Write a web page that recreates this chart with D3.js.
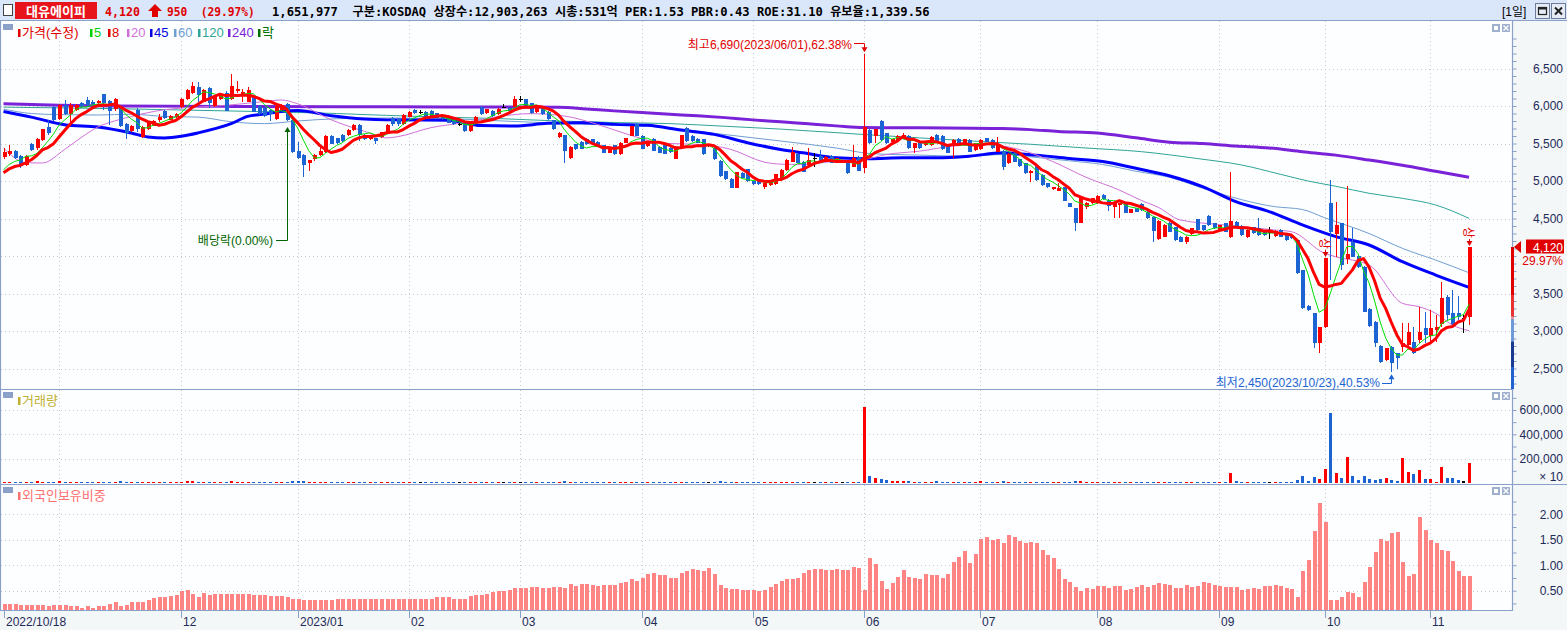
<!DOCTYPE html>
<html>
<head>
<meta charset="utf-8">
<script src="https://cdn.jsdelivr.net/npm/d3@7"></script>
<style>
body { margin: 0; background: #fff; overflow: hidden; }
svg { display: block; }
text { font-family: "Liberation Sans", "Noto Sans CJK KR", sans-serif; }
</style>
</head>
<body>
<div id="chart"></div>
<script>
// 일봉 데이터 (2022/10/18 ~ 2023/11/10), 그림에서 읽은 값
var opens = [
5320,5355,5400,5330,5220,5490,5440,5545,5720,5985,
5825,6015,5895,5950,6040,6080,6060,6035,6160,6065,
5955,5985,5765,5670,5950,5590,5690,5740,5820,5930,
5820,5850,5985,6090,6170,6250,6060,6235,5995,6090,
6180,6090,6200,6160,6060,6125,6000,5975,5950,5825,
5950,6030,5820,5400,5350,5240,5290,5345,5385,5605,
5570,5620,5610,5675,5750,5620,5555,5570,5590,5660,
5844,5822,5755,5858,5946,5920,5920,5933,5902,5858,
5866,5822,5755,5800,5667,5778,5991,5902,5933,5889,
5991,5977,5991,6089,6089,6035,5920,5986,5920,5813,
5591,5609,5311,5489,5520,5555,5555,5520,5475,5378,
5475,5356,5511,5600,5764,5600,5467,5564,5458,5475,
5444,5298,5444,5711,5600,5564,5555,5475,5444,5267,
5133,5031,4911,5111,5155,5000,5000,4925,4942,4960,
5035,5147,5258,5360,5258,5213,5302,5333,5271,5333,
5244,5258,5258,5191,5324,5169,5680,5600,5804,5635,
5524,5546,5569,5600,5435,5524,5480,5480,5613,5600,
5480,5480,5555,5480,5546,5413,5422,5569,5546,5391,
5404,5235,5378,5289,5235,5111,5200,5080,4969,4889,
4871,4915,4702,4635,4444,4658,4702,4702,4813,4747,
4649,4680,4702,4578,4635,4693,4591,4524,4222,4258,
4445,4383,4258,4192,4294,4489,4414,4534,4436,4347,
4436,4249,4458,4400,4249,4383,4370,4338,4325,4267,
4347,4294,4267,4214,3814,3330,3236,2836,3050,4702,
4300,4435,3960,4191,4000,3858,3300,3124,2800,2613,
2791,2702,2791,2813,2849,2880,3036,2933,3013,3093,
3449,3235,3235,3170,3190];
var highs = [
5440,5485,5420,5345,5350,5510,5580,5700,5820,6000,
6030,6080,6040,6030,6060,6125,6075,6080,6165,6080,
6110,6000,5780,5750,5980,5730,5790,5820,5900,5945,
5880,5910,6105,6230,6325,6325,6230,6250,6135,6165,
6195,6425,6340,6225,6260,6140,6010,5990,5960,6010,
6030,6040,5830,5520,5360,5285,5360,5470,5610,5615,
5580,5630,5690,5760,5760,5630,5610,5580,5660,5760,
5860,5840,5890,5935,5960,5945,5930,5945,5910,5870,
5875,5830,5770,5810,5790,5870,6000,5965,5945,5975,
6030,5990,6130,6135,6100,6045,5985,5995,5930,5820,
5655,5620,5465,5500,5530,5570,5565,5530,5485,5450,
5485,5515,5575,5740,5775,5610,5525,5570,5465,5480,
5450,5465,5615,5720,5610,5575,5565,5490,5450,5275,
5140,5040,5125,5120,5165,5010,5010,4975,4990,5100,
5155,5290,5449,5372,5268,5435,5378,5413,5335,5343,
5310,5270,5268,5480,5333,6690,5690,5698,5815,5645,
5565,5610,5635,5608,5510,5532,5520,5600,5622,5608,
5488,5555,5568,5563,5555,5510,5555,5580,5554,5582,
5412,5368,5386,5297,5243,5146,5208,5088,4977,4923,
4980,4923,4710,4643,4800,4720,4777,4808,4821,4755,
4710,4710,4710,4630,4643,4701,4599,4532,4479,4421,
4455,4390,4265,4265,4375,4500,4420,4545,4445,4420,
4445,5125,4465,4410,4355,4390,4505,4345,4385,4345,
4355,4300,4275,4220,3820,3345,3245,3058,3975,5013,
4724,4445,4930,4369,4010,3870,3310,3130,2810,2780,
2800,2710,3110,3102,3058,3324,3258,3280,3213,3658,
3480,3546,3467,3213,4120];
var lows = [
5300,5330,5290,5180,5200,5400,5420,5530,5620,5800,
5810,5880,5790,5930,5980,5990,6015,6020,5950,5750,
5940,5720,5560,5650,5650,5580,5680,5730,5790,5830,
5810,5840,5970,6080,6160,6050,6050,5970,5985,6080,
5930,6080,6180,6060,6050,5915,5880,5860,5795,5815,
5940,5800,5380,5290,5060,5130,5270,5330,5380,5490,
5500,5520,5600,5665,5530,5550,5545,5500,5580,5650,
5740,5740,5745,5850,5895,5900,5850,5835,5835,5810,
5770,5745,5730,5650,5655,5770,5875,5895,5855,5880,
5975,5925,5985,6060,5990,5900,5910,5880,5810,5680,
5580,5244,5300,5415,5425,5480,5480,5460,5370,5370,
5350,5350,5505,5595,5595,5425,5460,5395,5370,5355,
5380,5290,5440,5525,5525,5505,5350,5460,5280,5060,
5015,4905,4905,5035,4990,4945,4945,4900,4935,4950,
5025,5135,5250,5235,5115,5191,5191,5262,5262,5235,
5235,5248,5100,5182,5130,5102,5495,5502,5538,5495,
5515,5538,5560,5428,5375,5428,5472,5472,5503,5415,
5370,5302,5495,5472,5384,5405,5414,5517,5428,5383,
5147,5227,5250,5192,5094,4991,5005,4939,4908,4882,
4863,4730,4650,4338,4436,4630,4694,4694,4747,4600,
4502,4502,4570,4570,4583,4605,4494,4191,4214,4250,
4320,4205,4185,4160,4285,4340,4340,4405,4360,4340,
4315,4240,4385,4270,4240,4295,4270,4270,4225,4260,
4250,4205,4230,3760,3290,3270,2770,2711,3040,3680,
3991,3814,3900,3985,3840,3250,3060,2790,2580,2600,
2450,2500,2724,2769,2690,2835,2835,2826,2858,3058,
3147,3058,3147,2970,3080];
var closes = [
5385,5405,5310,5200,5340,5420,5560,5695,5640,5815,
6015,5895,6015,6015,5995,6015,6030,6065,6045,5935,
6100,5730,5640,5735,5690,5720,5775,5805,5850,5840,
5870,5900,6095,6215,6270,6150,6215,6045,6125,6150,
5940,6265,6225,6190,6215,5925,5900,5870,5900,6000,
6015,5820,5385,5310,5220,5275,5350,5400,5605,5500,
5510,5530,5685,5750,5620,5560,5600,5540,5650,5750,
5755,5755,5875,5920,5902,5920,5858,5844,5844,5822,
5778,5755,5755,5667,5778,5858,5889,5955,5866,5964,
5991,5933,6098,6089,6000,5911,5977,5889,5822,5689,
5644,5400,5458,5422,5431,5489,5489,5467,5378,5444,
5356,5511,5569,5733,5600,5431,5520,5400,5378,5364,
5386,5458,5609,5533,5533,5511,5356,5475,5289,5067,
5022,4911,5120,5044,5000,4955,4955,4969,4986,5093,
5147,5280,5391,5244,5124,5280,5302,5271,5324,5244,
5302,5258,5111,5302,5138,5724,5502,5689,5546,5502,
5555,5600,5613,5435,5502,5435,5511,5591,5511,5422,
5378,5546,5502,5555,5391,5502,5546,5524,5435,5480,
5182,5360,5258,5200,5102,5138,5013,4947,4915,4915,
4902,4738,4658,4444,4791,4711,4769,4800,4755,4667,
4702,4702,4578,4622,4591,4613,4502,4338,4471,4413,
4325,4214,4192,4258,4370,4347,4347,4414,4370,4414,
4325,4467,4392,4280,4347,4303,4280,4280,4325,4338,
4258,4214,4236,3769,3303,3280,2845,3058,3975,4325,
4415,3880,4030,3991,3850,3258,3070,2835,2590,2769,
2569,2635,2835,2991,2702,2991,2947,3036,3058,3435,
3213,3093,3182,3170,4120];
// 차트 시작 전 종가 (단기 이동평균 계산용, 선의 시작 위치에서 추정)
var priorCloses = [5000,5050,5080,5060,5100,5110,5095];

// 거래량 (x10 주)
var volumes = [
12000,9000,11000,10000,9000,8000,13000,12000,10000,11000,
14000,10000,9000,8000,9000,10000,7000,8000,11000,12000,
9000,13000,11000,8000,10000,9000,8000,7000,8000,7000,
7000,8000,12000,14000,13000,11000,10000,12000,9000,8000,
11000,15000,10000,9000,9000,10000,8000,7000,8000,9000,
8000,12000,16000,14000,13000,9000,8000,8000,11000,9000,
8000,7000,8000,9000,10000,8000,7000,7000,8000,9000,
9000,8000,9000,8000,7000,6000,7000,8000,7000,6000,
7000,8000,6000,9000,8000,8000,11000,8000,7000,8000,
7000,7000,12000,10000,9000,9000,7000,8000,8000,10000,
9000,14000,11000,8000,7000,7000,6000,7000,8000,7000,
8000,9000,8000,11000,10000,9000,7000,8000,7000,7000,
6000,9000,10000,9000,7000,7000,9000,6000,9000,20000,
12000,11000,12000,8000,9000,7000,7000,6000,6000,9000,
8000,10000,11000,9000,8000,9000,7000,8000,6000,7000,
6000,5000,8000,10000,9000,625000,57000,41000,33000,25000,
15000,15000,15000,15000,11000,9000,8000,9000,15000,10000,
9000,11000,8000,9000,10000,9000,15000,8000,8000,9000,
15000,9000,8000,8000,10000,8000,10000,9000,7000,6000,
7000,10000,8000,14000,13000,9000,8000,9000,7000,8000,
8000,7000,8000,6000,6000,7000,8000,12000,11000,9000,
8000,9000,7000,7000,8000,9000,7000,8000,6000,7000,
8000,82000,14000,10000,9000,8000,10000,7000,6000,7000,
8000,9000,10000,25000,55000,19000,47000,33000,115000,575000,
82000,41000,216000,57000,25000,57000,33000,25000,33000,41000,
25000,16000,205000,90000,74000,107000,33000,33000,8000,131000,
41000,41000,25000,16000,165198];

// 외국인보유비중 (%)
var foreign = [
0.24,0.24,0.24,0.22,0.22,0.22,0.22,0.22,0.20,0.22,
0.22,0.22,0.20,0.19,0.17,0.19,0.17,0.19,0.19,0.24,
0.27,0.20,0.22,0.27,0.27,0.27,0.32,0.35,0.37,0.37,
0.39,0.42,0.49,0.51,0.44,0.37,0.45,0.42,0.44,0.44,
0.44,0.44,0.44,0.44,0.44,0.42,0.42,0.42,0.40,0.40,
0.40,0.37,0.34,0.34,0.32,0.32,0.32,0.32,0.32,0.32,
0.34,0.34,0.34,0.34,0.34,0.34,0.34,0.34,0.34,0.34,
0.34,0.34,0.34,0.34,0.34,0.34,0.34,0.34,0.37,0.37,
0.37,0.34,0.34,0.34,0.39,0.41,0.42,0.44,0.47,0.50,
0.50,0.52,0.55,0.55,0.55,0.57,0.57,0.55,0.55,0.57,
0.57,0.55,0.63,0.60,0.63,0.63,0.62,0.60,0.61,0.61,
0.61,0.66,0.68,0.72,0.70,0.74,0.82,0.85,0.80,0.80,
0.74,0.74,0.85,0.88,0.92,0.90,0.88,0.95,0.82,0.62,
0.55,0.54,0.54,0.51,0.51,0.51,0.50,0.52,0.57,0.64,
0.70,0.72,0.72,0.74,0.85,0.90,0.92,0.92,0.90,0.90,
0.92,0.90,0.90,0.97,0.95,0.52,1.15,1.03,0.70,0.54,
0.65,0.77,0.90,0.77,0.75,0.73,0.83,0.80,0.81,0.75,
0.83,1.07,1.17,1.27,1.05,1.23,1.51,1.56,1.49,1.51,
1.43,1.59,1.55,1.47,1.44,1.45,1.43,1.29,1.20,1.15,
0.92,0.72,0.68,0.58,0.50,0.56,0.54,0.60,0.60,0.56,
0.60,0.60,0.52,0.54,0.58,0.62,0.58,0.62,0.66,0.64,
0.62,0.56,0.56,0.62,0.58,0.60,0.68,0.66,0.62,0.60,
0.58,0.58,0.58,0.52,0.54,0.56,0.54,0.60,0.60,0.62,
0.60,0.56,0.54,0.38,0.89,1.11,1.68,2.23,1.84,0.32,
0.32,0.38,0.47,0.46,0.38,0.67,0.97,1.26,1.52,1.48,
1.64,1.66,1.06,0.79,0.83,1.95,1.69,1.50,1.44,1.30,
1.28,1.08,0.89,0.79,0.79];

// 장기 이동평균선: 그림에서 읽은 [봉 번호, 가격]
var ma20 = [[0,5440],[4,5245],[7,5240],[11,5420],[14,5580],[17,5720],[20,5800],[23,5860],[29,5950],[35,5985],[41,6015],[47,6060],[50,6080],[53,6030],[59,5817],[65,5663],[69,5575],[71,5591],[77,5711],[83,5778],[89,5858],[95,5898],[101,5867],[107,5755],[113,5609],[119,5502],[125,5489],[131,5422],[137,5253],[140,5225],[144,5220],[150,5265],[155,5287],[159,5353],[165,5398],[171,5465],[177,5487],[183,5420],[189,5260],[195,5050],[201,4880],[205,4740],[208,4650],[212,4480],[220,4414],[229,4347],[232,4325],[238,4036],[240,3990],[246,3880],[252,3369],[255,3324],[258,3235],[261,3080],[264,3004]];
var ma45 = [[0,5927],[5,5852],[11,5751],[17,5720],[23,5641],[26,5588],[29,5575],[32,5597],[35,5641],[41,5764],[44,5861],[47,5892],[50,5927],[53,5940],[59,5870],[65,5826],[69,5815],[80,5809],[86,5740],[92,5733],[98,5769],[104,5778],[110,5755],[116,5742],[122,5680],[128,5622],[134,5511],[140,5420],[144,5376],[150,5309],[156,5296],[162,5309],[168,5309],[174,5331],[180,5376],[186,5345],[192,5300],[198,5260],[204,5170],[210,5070],[216,4925],[222,4725],[228,4592],[234,4414],[240,4258],[246,4147],[252,3924],[258,3746],[264,3582]];
var ma60 = [[0,5958],[5,5900],[10,5885],[17,5880],[23,5890],[29,5861],[35,5852],[41,5790],[47,5765],[53,5800],[60,5830],[69,5840],[80,5831],[90,5800],[100,5770],[110,5745],[116,5733],[128,5636],[140,5533],[150,5440],[156,5367],[165,5345],[174,5331],[180,5353],[186,5315],[192,5270],[198,5220],[204,5130],[210,5050],[217,4880],[229,4658],[234,4620],[238,4510],[246,4300],[252,4102],[258,3946],[264,3777]];
var ma120 = [[0,5985],[10,5975],[20,5965],[30,5950],[40,5935],[50,5920],[60,5900],[69,5875],[80,5850],[90,5830],[100,5800],[110,5780],[120,5765],[130,5730],[140,5692],[155,5620],[165,5575],[175,5531],[185,5490],[195,5440],[205,5391],[215,5300],[223,5214],[230,5090],[235,5000],[240,4930],[246,4836],[252,4769],[258,4680],[264,4502]];
var ma240 = [[0,6030],[10,6010],[20,6000],[40,5995],[60,5990],[80,5987],[100,5984],[105,5960],[110,5935],[115,5912],[120,5890],[125,5870],[130,5845],[135,5815],[140,5790],[145,5762],[150,5735],[155,5712],[160,5710],[170,5708],[180,5700],[185,5685],[190,5660],[197,5640],[204,5576],[210,5518],[216,5500],[222,5467],[228,5440],[234,5391],[240,5345],[246,5280],[252,5210],[258,5130],[264,5050]];

// 날짜축: 각 월 첫 거래일의 봉 번호와 라벨
var monthStarts = [10, 32, 53, 73, 93, 115, 135, 155, 176, 197, 219, 238, 257];
var monthLabels = ["", "12", "2023/01", "02", "03", "04", "05", "06", "07", "08", "09", "10", "11"];
var firstDate = "2022/10/18";

var priceTicks = [2500, 3000, 3500, 4000, 4500, 5000, 5500, 6000, 6500];
var priceLabels = [2500, 3000, 3500, 4500, 5000, 5500, 6000, 6500];
var volTicks = [200000, 400000, 600000];
var forTicks = [0.5, 1.0, 1.5, 2.0];

var UP = "#ff0000", DOWN = "#1c64d4", FLAT = "#000000";
var AXIS = "#8aa0c8", LABEL = "#1e2a5a";

var svg = d3.select("#chart").append("svg")
    .attr("width", 1567)
    .attr("height", 630);

var x = d3.scaleLinear().domain([0, 264]).range([3.5, 1469]);
var yP = d3.scaleLinear().domain([3000, 6500]).range([331, 68.5]);
var yV = d3.scaleLinear().domain([0, 600000]).range([483, 410]);
var yF = d3.scaleLinear().domain([0.5, 2.0]).range([590.7, 514.3]);

// 배경
svg.append("rect").attr("width", 1567).attr("height", 630).attr("fill", "#fdfeff");
svg.append("rect").attr("x", 1513).attr("y", 21).attr("width", 54).attr("height", 609).attr("fill", "#f3f7f7");
svg.append("rect").attr("x", 0).attr("y", 611).attr("width", 1567).attr("height", 19).attr("fill", "#f3f7f7");

var defs = svg.append("defs");
function clip(id, y0, y1) {
    defs.append("clipPath").attr("id", id).append("rect")
        .attr("x", 1).attr("y", y0).attr("width", 1511).attr("height", y1 - y0);
}
clip("cp", 21, 389);
clip("cv", 390, 484);
clip("cf", 485, 610);

// 그리드
function hgrid(vals, scale) {
    svg.append("g").selectAll("line").data(vals).join("line")
        .attr("x1", 1).attr("x2", 1512)
        .attr("y1", function(d){ return Math.round(scale(d)) + 0.5; })
        .attr("y2", function(d){ return Math.round(scale(d)) + 0.5; })
        .attr("stroke", "#c8c8c8").attr("stroke-dasharray", "1,3");
}
function vgrid(y0, y1) {
    svg.append("g").selectAll("line").data(monthStarts).join("line")
        .attr("x1", function(d){ return Math.round(x(d)) + 0.5; })
        .attr("x2", function(d){ return Math.round(x(d)) + 0.5; })
        .attr("y1", y0).attr("y2", y1)
        .attr("stroke", "#c8c8c8").attr("stroke-dasharray", "1,3");
}
hgrid(priceTicks, yP); vgrid(21, 389);
hgrid(volTicks, yV); vgrid(390, 484);
hgrid(forTicks, yF); vgrid(485, 610);

// 이동평균
var allCloses = priorCloses.concat(closes);
function sma(n) {
    return closes.map(function(c, i) {
        var j = i + priorCloses.length;
        if (j + 1 < n) return null;
        return d3.mean(allCloses.slice(j - n + 1, j + 1));
    });
}
var ma5 = sma(5), ma8 = sma(8);

var pricePanel = svg.append("g").attr("clip-path", "url(#cp)");

var sampleLine = d3.line()
    .x(function(d){ return x(d[0]); })
    .y(function(d){ return yP(d[1]); })
    .curve(d3.curveMonotoneX);
var seriesLine = d3.line()
    .defined(function(d){ return d != null; })
    .x(function(d, i){ return x(i); })
    .y(function(d){ return yP(d); });

function drawPath(g, data, gen, color, w) {
    g.append("path").datum(data).attr("d", gen)
        .attr("fill", "none").attr("stroke", color).attr("stroke-width", w)
        .attr("stroke-linejoin", "round");
}
drawPath(pricePanel, ma240, sampleLine, "#7a22d8", 3);
drawPath(pricePanel, ma120, sampleLine, "#2fa597", 1);
drawPath(pricePanel, ma60, sampleLine, "#6f9fd2", 1);
drawPath(pricePanel, ma45, sampleLine, "#0000ff", 3);
drawPath(pricePanel, ma20, sampleLine, "#d070d8", 1);

// 캔들
function candleColor(i) {
    return closes[i] > opens[i] ? UP : (closes[i] < opens[i] ? DOWN : FLAT);
}
var idx = d3.range(closes.length);
var candles = pricePanel.append("g").selectAll("g").data(idx).join("g")
    .attr("shape-rendering", "crispEdges");
candles.append("line")
    .attr("x1", function(i){ return Math.round(x(i)) + 0.5; })
    .attr("x2", function(i){ return Math.round(x(i)) + 0.5; })
    .attr("y1", function(i){ return yP(highs[i]); })
    .attr("y2", function(i){ return yP(lows[i]); })
    .attr("stroke", candleColor);
candles.append("rect")
    .attr("x", function(i){ return Math.round(x(i)) - 1; })
    .attr("width", 4)
    .attr("y", function(i){ return yP(Math.max(opens[i], closes[i])); })
    .attr("height", function(i){ return Math.max(1, Math.abs(yP(opens[i]) - yP(closes[i]))); })
    .attr("fill", candleColor);

drawPath(pricePanel, ma5, seriesLine, "#00e000", 1);
drawPath(pricePanel, ma8, seriesLine, "#ff0000", 3);

// 거래량
svg.append("g").attr("clip-path", "url(#cv)").attr("shape-rendering", "crispEdges")
    .selectAll("rect").data(idx).join("rect")
    .attr("x", function(i){ return Math.round(x(i)) - 1; })
    .attr("width", 3)
    .attr("y", function(i){ return Math.min(yV(volumes[i]), 482); })
    .attr("height", function(i){ return Math.max(1, 483 - yV(volumes[i])); })
    .attr("fill", candleColor);

// 외국인보유비중
svg.append("g").attr("clip-path", "url(#cf)").attr("shape-rendering", "crispEdges")
    .selectAll("rect").data(idx).join("rect")
    .attr("x", function(i){ return Math.round(x(i)) - 1; })
    .attr("width", 3.5)
    .attr("y", function(i){ return yF(foreign[i]); })
    .attr("height", function(i){ return 610 - yF(foreign[i]); })
    .attr("fill", "#ff8585");

// 테두리
function hline(y, x1, x2) {
    svg.append("line").attr("x1", x1).attr("x2", x2).attr("y1", y).attr("y2", y)
        .attr("stroke", AXIS).attr("stroke-width", 1.2);
}
hline(389.5, 0, 1512);
hline(484.5, 0, 1567);
hline(610.5, 0, 1512);
svg.append("line").attr("x1", 1512.5).attr("x2", 1512.5).attr("y1", 20).attr("y2", 611)
    .attr("stroke", AXIS).attr("stroke-width", 1.2);
svg.append("line").attr("x1", 0.5).attr("x2", 0.5).attr("y1", 20).attr("y2", 611)
    .attr("stroke", AXIS).attr("stroke-width", 1.2);

// 오른쪽 축
function rightAxis(scale, minor, labels, fmt) {
    var g = svg.append("g").attr("transform", "translate(1512.5,0)")
        .call(d3.axisRight(scale).tickValues(minor).tickSize(4)
            .tickFormat(function(d){ return labels.indexOf(d) >= 0 ? fmt(d) : ""; }));
    g.select(".domain").remove();
    g.selectAll(".tick line").attr("stroke", AXIS);
    g.selectAll(".tick text").attr("x", 50.5).attr("text-anchor", "end")
        .attr("fill", LABEL).style("font-size", "12px")
        .style("font-family", "'Liberation Sans', sans-serif");
    return g;
}
rightAxis(yP, d3.range(2300, 6901, 100), priceLabels, d3.format(","));
rightAxis(yV, [100000, 200000, 300000, 400000, 500000, 600000, 700000], volTicks, d3.format(","));
rightAxis(yF, [0.25, 0.5, 0.75, 1.0, 1.25, 1.5, 1.75, 2.0, 2.25], forTicks, d3.format(".2f"));
svg.append("text").attr("x", 1563).attr("y", 481).attr("text-anchor", "end")
    .attr("fill", LABEL).style("font-size", "12px").text("× 10");

// 날짜축
var xa = svg.append("g");
var tickIdx = [0].concat(monthStarts.slice(1));
var tickLab = [firstDate].concat(monthLabels.slice(1));
xa.selectAll("line").data(tickIdx).join("line")
    .attr("x1", function(d){ return Math.round(x(d)) + 0.5; })
    .attr("x2", function(d){ return Math.round(x(d)) + 0.5; })
    .attr("y1", 611).attr("y2", 618).attr("stroke", AXIS);
xa.selectAll("text").data(tickIdx).join("text")
    .attr("x", function(d){ return Math.round(x(d)) + 2; })
    .attr("y", 626).attr("fill", LABEL).style("font-size", "12px")
    .text(function(d, k){ return tickLab[k]; });

// 현재가 표시
var last = closes.length - 1;
var yl = yP(closes[last]);
var sideBar = [[4120, 3480, "#e00000"], [3480, 3190, "#e83232"], [3190, 3160, "#f09090"],
               [3160, 2860, "#6f9ad8"], [2860, 2520, "#1a3c90"], [2520, 2210, "#1f62d0"]];
svg.append("g").selectAll("rect").data(sideBar).join("rect")
    .attr("x", 1511).attr("width", 3)
    .attr("y", function(d){ return yP(d[0]); })
    .attr("height", function(d){ return Math.min(389, yP(d[1])) - yP(d[0]); })
    .attr("fill", function(d){ return d[2]; });
svg.append("path").attr("d", "M1514," + yl + "L1521," + (yl - 6) + "L1521," + (yl + 6) + "Z").attr("fill", "#e00000");
svg.append("rect").attr("x", 1526).attr("y", yl - 7.5).attr("width", 38).attr("height", 14).attr("fill", "#e00000");
svg.append("text").attr("x", 1563).attr("y", yl + 4.5).attr("text-anchor", "end")
    .attr("fill", "#fff").style("font-size", "12px").text(d3.format(",")(closes[last]));
svg.append("text").attr("x", 1563).attr("y", yl + 18).attr("text-anchor", "end")
    .attr("fill", "#e00000").style("font-size", "12px").text("29.97%");

// 주석
function arrowHead(px, py, dir, color) {
    var d = dir === "down"
        ? "M" + (px - 3) + "," + (py - 5) + "L" + (px + 3) + "," + (py - 5) + "L" + px + "," + py + "Z"
        : "M" + (px - 3) + "," + (py + 5) + "L" + (px + 3) + "," + (py + 5) + "L" + px + "," + py + "Z";
    svg.append("path").attr("d", d).attr("fill", color);
}
var iHi = 155, iLo = 250, iDiv = 51;
var hx = Math.round(x(iHi)) + 0.5;
svg.append("text").attr("x", 852).attr("y", 49).attr("text-anchor", "end")
    .attr("fill", "#e00000").style("font-size", "12px")
    .text("최고" + d3.format(",")(highs[iHi]) + "(2023/06/01),62.38%");
svg.append("path").attr("d", "M854,43.5H" + hx + "V" + (yP(highs[iHi]) - 3))
    .attr("fill", "none").attr("stroke", "#e00000");
arrowHead(hx, yP(highs[iHi]) - 2, "down", "#e00000");

var lx = Math.round(x(iLo)) + 0.5;
svg.append("text").attr("x", 1380).attr("y", 387).attr("text-anchor", "end")
    .attr("fill", DOWN).style("font-size", "12px")
    .text("최저" + d3.format(",")(lows[iLo]) + "(2023/10/23),40.53%");
svg.append("path").attr("d", "M1382,383.5H" + lx + "V" + (yP(lows[iLo]) + 3))
    .attr("fill", "none").attr("stroke", DOWN);
arrowHead(lx, yP(lows[iLo]) + 2, "up", DOWN);

var dx = Math.round(x(iDiv)) + 0.5;
svg.append("text").attr("x", 273).attr("y", 245).attr("text-anchor", "end")
    .attr("fill", "#006400").style("font-size", "12px").text("배당락(0.00%)");
svg.append("path").attr("d", "M276,240.5H" + dx + "V" + (yP(lows[iDiv]) + 7))
    .attr("fill", "none").attr("stroke", "#006400");
arrowHead(dx, yP(lows[iDiv]) + 6, "up", "#006400");

// 상한가 표시
[238, 264].forEach(function(i) {
    var cx = Math.round(x(i)) + 0.5, top = yP(highs[i]);
    svg.append("text").attr("transform", "translate(" + (cx - 5.5) + "," + (top - 20) + ") rotate(90)")
        .attr("fill", "#e00000").style("font-size", "12px").text("상");
    svg.append("line").attr("x1", cx).attr("x2", cx).attr("y1", top - 8).attr("y2", top - 2)
        .attr("stroke", "#e00000");
    arrowHead(cx, top - 1, "down", "#e00000");
});

// 범례
function legend(items, y) {
    items.forEach(function(it) {
        svg.append("rect").attr("x", it[0]).attr("y", y - 8).attr("width", 2.5).attr("height", 8).attr("fill", it[2]);
        svg.append("text").attr("x", it[0] + 4).attr("y", y).attr("fill", it[2])
            .style("font-size", "13px").text(it[1]);
    });
}
legend([[18, "가격(수정)", "#e00000"], [90, "5", "#00d000"], [108, "8", "#e00000"],
        [127, "20", "#d070d8"], [150, "45", "#0000e0"], [174, "60", "#6f9fd2"],
        [198, "120", "#2fa597"], [228, "240", "#7a22d8"], [258, "락", "#007000"]], 37);
legend([[18, "거래량", "#c0b030"]], 405);
legend([[18, "외국인보유비중", "#ff7070"]], 500);

// 패널 아이콘
[23, 391, 486].forEach(function(y) {
    svg.append("rect").attr("x", 3).attr("y", y + 1).attr("width", 10).attr("height", 6).attr("fill", AXIS);
    svg.append("rect").attr("x", 1492).attr("y", y + 1).attr("width", 8).attr("height", 8).attr("fill", "#9fb0cc");
    svg.append("rect").attr("x", 1494).attr("y", y + 3).attr("width", 4).attr("height", 4).attr("fill", "#fff");
    svg.append("rect").attr("x", 1502).attr("y", y + 1).attr("width", 8).attr("height", 8).attr("fill", "#9fb0cc");
    svg.append("path").attr("d", "M1503.5," + (y + 2.5) + "l5,5m0,-5l-5,5").attr("stroke", "#fff").attr("stroke-width", 1.3);
});

// 제목줄
svg.append("rect").attr("width", 1567).attr("height", 20).attr("fill", "#dae6fa");
svg.append("line").attr("x1", 0).attr("x2", 1567).attr("y1", 20.5).attr("y2", 20.5).attr("stroke", AXIS);
svg.append("rect").attr("x", 3.5).attr("y", 4.5).attr("width", 9).attr("height", 11)
    .attr("fill", "#fff").attr("stroke", "#444");
svg.append("rect").attr("x", 15).attr("y", 2).attr("width", 82).attr("height", 17).attr("fill", "#e8141c");
svg.append("text").attr("x", 56).attr("y", 15.5).attr("text-anchor", "middle")
    .attr("fill", "#fff").style("font-size", "13px").style("font-weight", "bold").text("대유에이피");
svg.append("path").attr("d", "M155,4L162,11H158V17H152V11H148Z").attr("fill", "#e00000");

// [텍스트, 시작 x, 폭, 색]
var header = [
    ["4,120", 105, 35, "#e00000"],
    ["950  (29.97%)", 167, 88, "#e00000"],
    ["1,651,977  구분:KOSDAQ 상장수:12,903,263 시총:531억 PER:1.53 PBR:0.43 ROE:31.10 유보율:1,339.56", 272, 658, "#000"]
];
header.forEach(function(h) {
    var t = svg.append("text").attr("fill", h[3])
        .style("font-size", "12px").style("font-weight", "bold").style("white-space", "pre")
        .style("font-family", "'DejaVu Sans Mono', 'Noto Sans CJK KR', monospace")
        .text(h[0]);
    var w = t.node().getComputedTextLength();
    t.attr("transform", "translate(" + h[1] + ",15.5) scale(" + (h[2] / w) + ",1)");
});

svg.append("text").attr("x", 1502).attr("y", 16).attr("fill", "#000")
    .style("font-size", "12px").text("[1일]");
svg.append("rect").attr("x", 1535.5).attr("y", 3.5).attr("width", 14).attr("height", 15)
    .attr("fill", "#e6ecf6").attr("stroke", "#6d7d99");
svg.append("rect").attr("x", 1538.5).attr("y", 7.5).attr("width", 8).attr("height", 7)
    .attr("fill", "none").attr("stroke", "#222").attr("stroke-width", 1.2);
svg.append("rect").attr("x", 1538.5).attr("y", 7.5).attr("width", 8).attr("height", 2).attr("fill", "#222");
svg.append("rect").attr("x", 1551.5).attr("y", 3.5).attr("width", 14).attr("height", 15)
    .attr("fill", "#e6ecf6").attr("stroke", "#6d7d99");
svg.append("path").attr("d", "M1555,7.5l7,7m0,-7l-7,7").attr("stroke", "#222").attr("stroke-width", 2);
</script>
</body>
</html>
